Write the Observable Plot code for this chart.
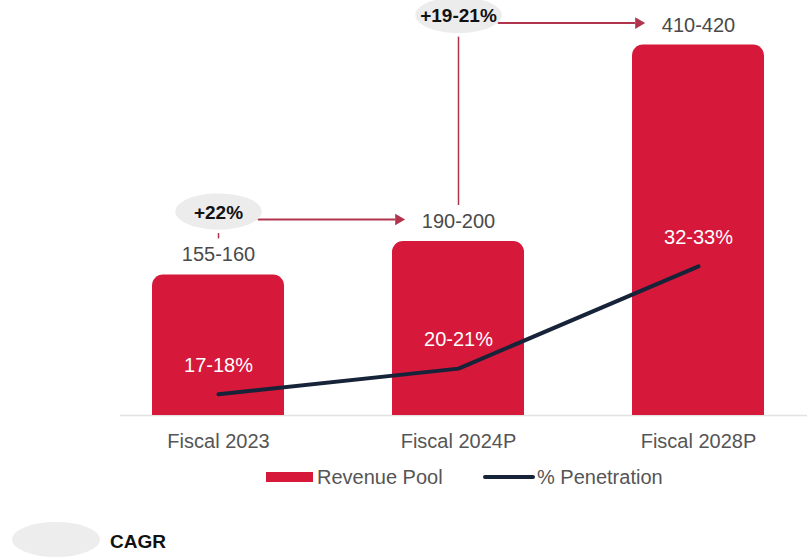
<!DOCTYPE html>
<html><head><meta charset="utf-8">
<script src="https://cdn.jsdelivr.net/npm/d3@7"></script>
<script src="https://cdn.jsdelivr.net/npm/@observablehq/plot@0.6"></script>
<style>
body{margin:0;background:#fff;font-family:"Liberation Sans",Arial,sans-serif;}
#chart svg{display:block;}
#legend{position:relative;width:807px;height:101px;}
#legend span,#legend div{position:absolute;}
.lt{font-size:20px;line-height:20px;color:#555;white-space:nowrap;}
</style></head><body>
<div id="chart"></div>
<div id="legend">
  <div style="left:266px;top:14px;width:47px;height:10px;background:#d6183b"></div>
  <span class="lt" style="left:317px;top:9px">Revenue Pool</span>
  <div style="left:483px;top:17px;width:52px;height:4px;border-radius:2px;background:#172338"></div>
  <span class="lt" style="left:537px;top:9px">% Penetration</span>
  <div style="left:12px;top:64px;width:88px;height:35px;border-radius:50%;background:#ededed"></div>
  <span style="left:110px;top:74px;font-size:19px;line-height:20px;font-weight:bold;color:#111">CAGR</span>
</div>
<script>
// ---- data ----
const categories = ["Fiscal 2023", "Fiscal 2024P", "Fiscal 2028P"];
const revenueLow = [155, 190, 410];
const revenueHigh = [160, 200, 420];
const penetrationLow = [17, 20, 32];
const penetrationHigh = [18, 21, 33];
const cagrFrom = ["Fiscal 2023", "Fiscal 2024P"];
const cagrTo = ["Fiscal 2024P", "Fiscal 2028P"];
const cagrLabels = ["+22%", "+19-21%"];

// ---- derived tables ----
const data = categories.map((c, i) => ({
  year: c,
  revenue: (revenueLow[i] + revenueHigh[i]) / 2,
  revLabel: `${revenueLow[i]}-${revenueHigh[i]}`,
  pen: (penetrationLow[i] + penetrationHigh[i]) / 2,
  penLabel: `${penetrationLow[i]}-${penetrationHigh[i]}%`
}));
const revOf = Object.fromEntries(data.map(d => [d.year, d.revenue]));
const cagr = cagrLabels.map((l, i) => ({from: cagrFrom[i], to: cagrTo[i], label: l}));

// secondary (penetration) axis mapped onto the revenue axis
const penAxis = d3.scaleLinear().domain([15, 35]).range([0, 191]);

const RED = "#d6183b", NAVY = "#172338", ARROW = "#b0344c";

const ellipse = {draw(ctx, size) {
  const r = Math.sqrt(size / Math.PI), rx = r * 2.4, ry = r, k = 0.5523;
  ctx.moveTo(rx, 0);
  ctx.bezierCurveTo(rx, ry * k, rx * k, ry, 0, ry);
  ctx.bezierCurveTo(-rx * k, ry, -rx, ry * k, -rx, 0);
  ctx.bezierCurveTo(-rx, -ry * k, -rx * k, -ry, 0, -ry);
  ctx.bezierCurveTo(rx * k, -ry, rx, -ry * k, rx, 0);
  ctx.closePath();
}};

const chart = Plot.plot({
  width: 807,
  height: 458,
  marginLeft: 127,
  marginRight: 17,
  marginTop: 0,
  marginBottom: 43,
  style: {fontFamily: "'Liberation Sans', Arial, sans-serif", background: "white"},
  x: {domain: categories, paddingInner: 0.448, paddingOuter: 0.1, label: null},
  y: {domain: [0, 465], axis: null},
  marks: [
    Plot.ruleY([0], {stroke: "#e2e2e2", strokeWidth: 1.5, insetLeft: -7, insetRight: -17}),
    Plot.barY(data, {x: "year", y: "revenue", fill: RED, rx: 11}),
    Plot.barY(data, {x: "year", y: d => d.revenue / 2, fill: RED}),
    Plot.line(data, {x: "year", y: d => penAxis(d.pen), stroke: NAVY, strokeWidth: 4, strokeLinecap: "round", strokeLinejoin: "round"}),
    Plot.text(data, {x: "year", y: d => penAxis(d.pen), text: "penLabel", dy: -29, fill: "white", fontSize: 20}),
    Plot.text(data, {x: "year", y: "revenue", text: "revLabel", dy: -20, fill: "#4a4a4a", fontSize: 20}),
    // CAGR annotations
    Plot.ruleX(cagr, {x: "from", y1: d => revOf[d.to], y2: d => revOf[d.from], dy: -30, insetTop: 22, insetBottom: 6, stroke: ARROW, strokeWidth: 1.5}),
    Plot.arrow(cagr, {x1: "from", x2: "to", y1: d => revOf[d.to], y2: d => revOf[d.to], dy: -22, insetStart: 40, insetEnd: 64, headLength: 0, stroke: ARROW, strokeWidth: 2}),
    Plot.dot(cagr, {x: "to", y: d => revOf[d.to], dy: -22, dx: -60, symbol: "triangle2", rotate: 90, r: 5.5, fill: ARROW}),
    Plot.dot(cagr, {x: "from", y: d => revOf[d.to], dy: -30, symbol: ellipse, r: 18, fill: "#ececec"}),
    Plot.text(cagr, {x: "from", y: d => revOf[d.to], dy: -29, text: "label", fontWeight: "bold", fontSize: 19, fill: "#111"}),
    Plot.axisX({tickSize: 0, tickPadding: 18, fontSize: 20, fill: "#555", label: null})
  ]
});
document.getElementById("chart").appendChild(chart);
</script>
</body></html>
